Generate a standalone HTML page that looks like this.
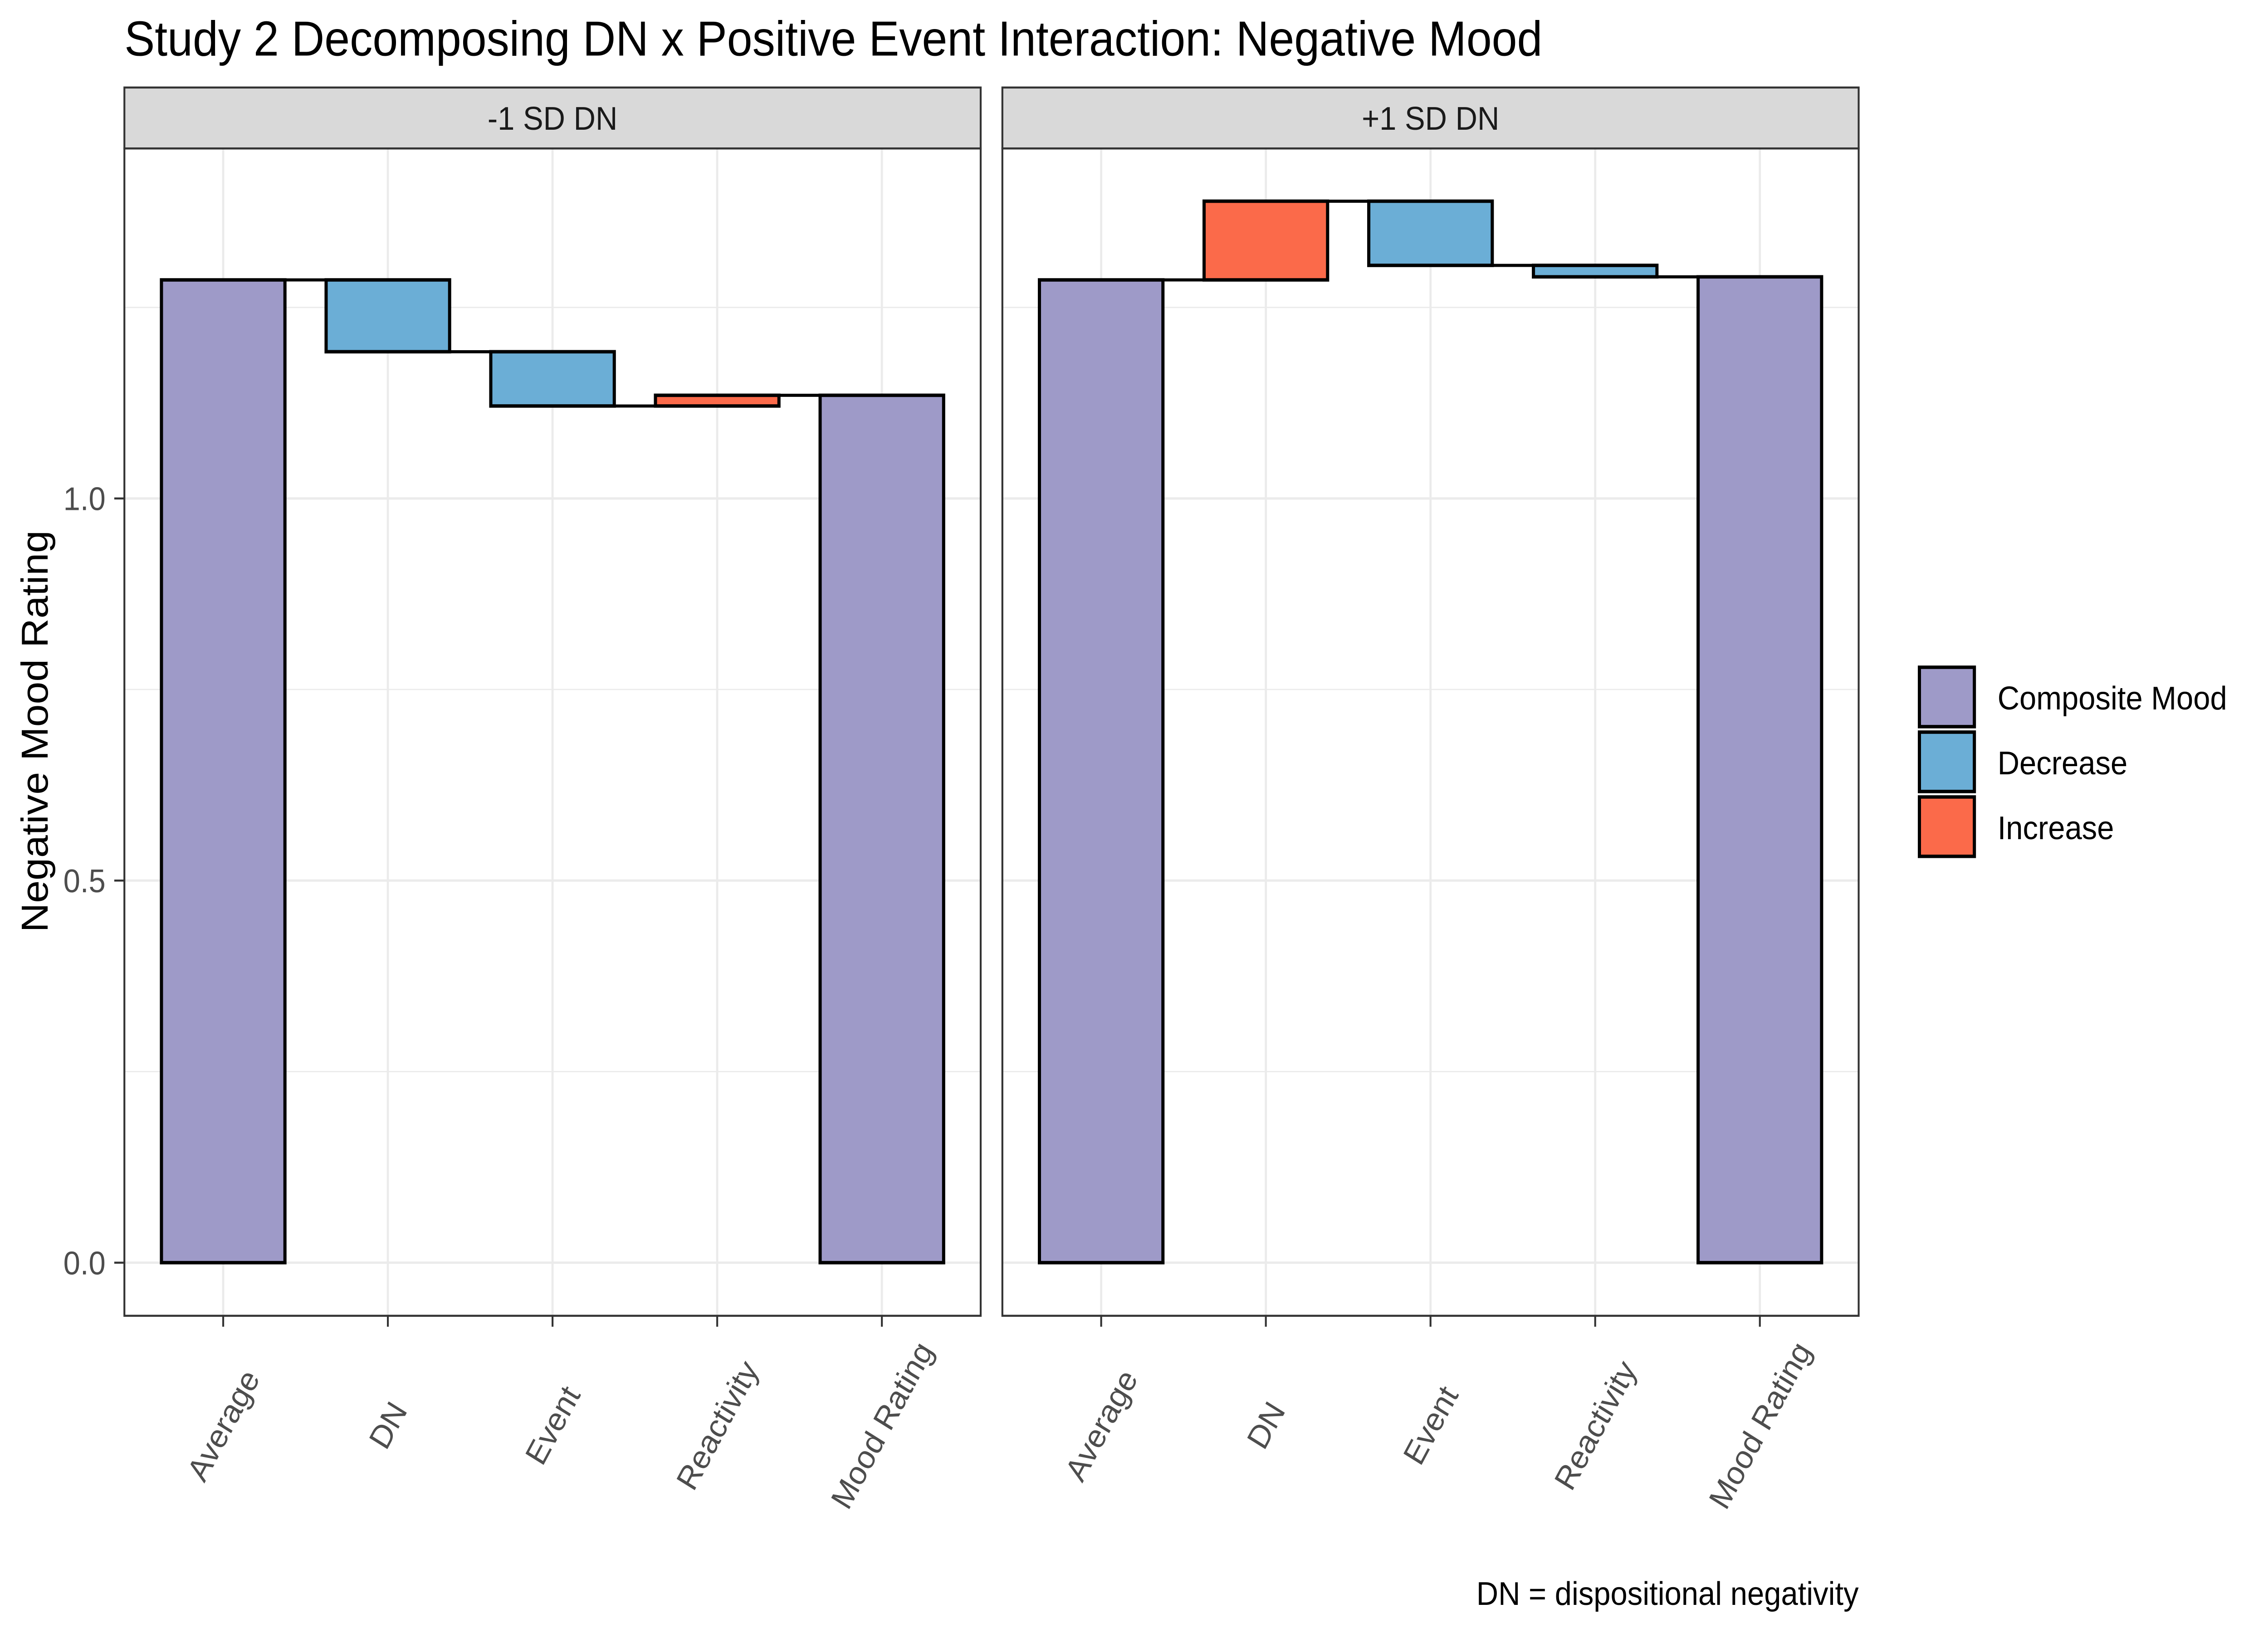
<!DOCTYPE html>
<html><head><meta charset="utf-8"><style>html,body{margin:0;padding:0;background:#fff;width:100%;height:100%;overflow:hidden}svg{display:block;width:100vw;height:100vh}</style></head>
<body>
<svg id="chart" viewBox="0 0 1568 1045" preserveAspectRatio="none" xmlns="http://www.w3.org/2000/svg" font-family="Liberation Sans, sans-serif">
<rect width="1568" height="1045" fill="#fff"/>
<text x="86" y="35.5" font-size="31.5" fill="#000">Study 2 Decomposing DN x Positive Event Interaction: Negative Mood</text>
<text transform="translate(33,468) rotate(-90)" text-anchor="middle" font-size="26" fill="#000">Negative Mood Rating</text>
<g id="panels"></g>
<g>
 <rect x="1327" y="427" width="38" height="38" fill="#9e9ac8" stroke="#000" stroke-width="2.2"/>
 <rect x="1327" y="468.5" width="38" height="38" fill="#6baed6" stroke="#000" stroke-width="2.2"/>
 <rect x="1327" y="510" width="38" height="38" fill="#fb6a4a" stroke="#000" stroke-width="2.2"/>
 <text x="1381" y="454" font-size="21">Composite Mood</text>
 <text x="1381" y="495.5" font-size="21">Decrease</text>
 <text x="1381" y="537" font-size="21">Increase</text>
</g>
<text x="1285" y="1027" text-anchor="end" font-size="21">DN = dispositional negativity</text>
</svg>
<script>
const categories = ["Average","DN","Event","Reactivity","Mood Rating"];
const panelLabels = ["-1 SD DN","+1 SD DN"];
const startValue = [1.286, 1.286];
const changesLow = [-0.094, -0.071, 0.014];
const changesHigh = [0.103, -0.084, -0.015];
const yTicks = [0.0, 0.5, 1.0];
const yTickLabels = ["0.0","0.5","1.0"];
const yMinor = [0.25, 0.75, 1.25];

const NS = "http://www.w3.org/2000/svg";
const g = document.getElementById("panels");
function el(tag, attrs, parent){const e=document.createElementNS(NS,tag);for(const k in attrs)e.setAttribute(k,attrs[k]);(parent||g).appendChild(e);return e;}
const panelX = [86, 693], panelW = 592, pTop = 95, pBot = 842, stripTop = 56;
const yMin = -0.0695, yMax = 1.458;
function yScale(v){return pBot - (v - yMin)/(yMax - yMin)*(pBot - pTop);}
function xScale(p, i){return panelX[p] + (i + 1 - 0.4)/5.2*panelW;}
const bw = 0.75/5.2*panelW;
const colors = {comp:"#9e9ac8", dec:"#6baed6", inc:"#fb6a4a"};
[changesLow, changesHigh].forEach((changes, p) => {
  const x0 = panelX[p];
  const pg = el("g", {});
  
  
  el("rect", {x:x0, y:pTop, width:panelW, height:pBot-pTop, fill:"#fff"}, pg);
  yMinor.forEach(v => el("line", {x1:x0, x2:x0+panelW, y1:yScale(v), y2:yScale(v), stroke:"#ebebeb", "stroke-width":0.8}, pg));
  yTicks.forEach(v => el("line", {x1:x0, x2:x0+panelW, y1:yScale(v), y2:yScale(v), stroke:"#ebebeb", "stroke-width":1.5}, pg));
  categories.forEach((c,i) => el("line", {x1:xScale(p,i), x2:xScale(p,i), y1:pTop, y2:pBot, stroke:"#ebebeb", "stroke-width":1.5}, pg));
  let cum = startValue[p];
  const levels = [cum];
  const bars = [{lo:0, hi:cum, f:colors.comp}];
  changes.forEach(d => { const n = cum + d; bars.push({lo:Math.min(cum,n), hi:Math.max(cum,n), f: d>=0?colors.inc:colors.dec}); cum = n; levels.push(cum); });
  bars.push({lo:0, hi:cum, f:colors.comp});
  for (let i=0;i<4;i++){
    const ln = el("line", {x1:xScale(p,i)+bw/2, x2:xScale(p,i+1)-bw/2, y1:yScale(levels[i]), y2:yScale(levels[i]), stroke:"#000", "stroke-width":2}, pg);
    
    
  }
  bars.forEach((b,i) => {
    const r = el("rect", {x:xScale(p,i)-bw/2, y:yScale(b.hi), width:bw, height:yScale(b.lo)-yScale(b.hi), fill:b.f, stroke:"#000", "stroke-width":2.2}, pg);
    
    
  });
  el("rect", {x:x0, y:pTop, width:panelW, height:pBot-pTop, fill:"none", stroke:"#333", "stroke-width":1.3}, pg);
  const strip = el("rect", {x:x0, y:stripTop, width:panelW, height:pTop-stripTop, fill:"#d9d9d9", stroke:"#333", "stroke-width":1.3}, pg);
  
  
  const st = el("text", {x:x0+panelW/2, y:83, "text-anchor":"middle", "font-size":21, fill:"#1a1a1a"}, pg);
  st.textContent = panelLabels[p];
  
  
  categories.forEach((c,i) => {
    const x = xScale(p,i);
    el("line", {x1:x, x2:x, y1:pBot, y2:pBot+7, stroke:"#333", "stroke-width":1.3}, pg);
    const t = el("text", {transform:`translate(${x},912) rotate(-60)`, "text-anchor":"middle", dy:"0.35em", "font-size":21, fill:"#4d4d4d"}, pg);
    t.textContent = c;
    
    
  });
});
yTicks.forEach((v,k) => {
  el("line", {x1:79, x2:86, y1:yScale(v), y2:yScale(v), stroke:"#333", "stroke-width":1.3});
  const t = el("text", {x:73, y:yScale(v)+7.5, "text-anchor":"end", "font-size":21, fill:"#4d4d4d"});
  t.textContent = yTickLabels[k];
  
  
});
</script>
</body></html>
